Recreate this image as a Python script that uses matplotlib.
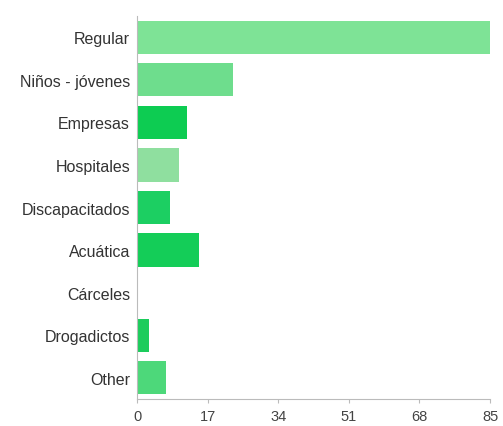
#!/usr/bin/env python3

import numpy as np
import matplotlib.pyplot as plt

categories = ["Regular", "Niños - jóvenes", "Empresas", "Hospitales",
              "Discapacitados", "Acuática", "Cárceles", "Drogadictos", "Other"]
values = [85, 23, 12, 10, 8, 15, 0, 3, 7]
colors = ["#7ee396", "#6edd8d", "#0dcc52", "#8fdf9f", "#1ccf62",
          "#14cd58", "#14cd58", "#1ccc5c", "#4dd87a"]
xticks = [0, 17, 34, 51, 68, 85]


def main():
    plt.rcParams['font.family'] = ['Liberation Sans', 'DejaVu Sans']
    fig = plt.figure(figsize=(5.03, 4.27), dpi=100)
    ax = fig.add_axes([0.2724, 0.0632, 0.7018, 0.897])

    y = np.arange(len(categories))
    ax.barh(y, values, height=0.78, color=colors)
    ax.set_yticks(y)
    ax.set_yticklabels(categories, fontsize=11.5, color="#333333")
    ax.set_ylim(len(categories) - 0.5, -0.5)
    ax.set_xlim(0, 85)
    ax.set_xticks(xticks)
    ax.set_xticklabels([str(t) for t in xticks], fontsize=10.5, color="#444444")

    for side in ("top", "right"):
        ax.spines[side].set_visible(False)
    ax.spines["left"].set_color("#bbbbbb")
    ax.spines["bottom"].set_color("#bbbbbb")
    ax.tick_params(axis="y", length=0, pad=5)
    ax.tick_params(axis="x", length=3, color="#bbbbbb", pad=4)

    fig.savefig("out.png", dpi=100)


if __name__ == "__main__":
    main()
